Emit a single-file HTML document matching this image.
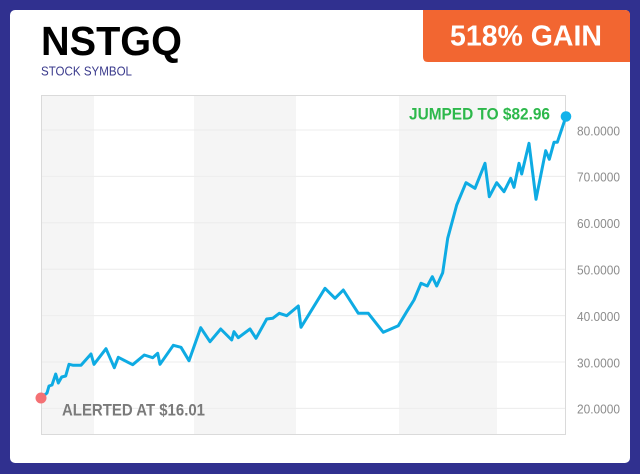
<!DOCTYPE html>
<html><head><meta charset="utf-8"><style>
html,body{margin:0;padding:0;background:#30308f;}
svg{display:block;}
text{font-family:"Liberation Sans",Arial,sans-serif;}
</style></head><body>
<svg width="640" height="474" viewBox="0 0 640 474" xmlns="http://www.w3.org/2000/svg">
<rect x="0" y="0" width="640" height="474" fill="#30308f"/>
<rect x="10" y="10" width="620" height="453" rx="5" fill="#ffffff"/>
<path d="M423,10 H625 Q630,10 630,15 V62 H428 Q423,62 423,57 Z" fill="#f26631"/>
<text x="450" y="45.5" font-size="28.5" font-weight="bold" fill="#ffffff" textLength="152" lengthAdjust="spacingAndGlyphs">518% GAIN</text>
<text x="41" y="55" font-size="41" font-weight="bold" fill="#000" textLength="141" lengthAdjust="spacingAndGlyphs">NSTGQ</text>
<text x="41" y="75.3" font-size="12.5" fill="#3a3a8c" textLength="91" lengthAdjust="spacingAndGlyphs">STOCK SYMBOL</text>
<!-- bands -->
<rect x="41" y="95" width="53" height="339.5" fill="#f5f5f5"/>
<rect x="194" y="95" width="102" height="339.5" fill="#f5f5f5"/>
<rect x="399" y="95" width="98" height="339.5" fill="#f5f5f5"/>
<!-- gridlines -->
<g stroke="#ececec" stroke-width="1">
<line x1="41" y1="130" x2="565.5" y2="130"/>
<line x1="41" y1="176.4" x2="565.5" y2="176.4"/>
<line x1="41" y1="222.8" x2="565.5" y2="222.8"/>
<line x1="41" y1="269.2" x2="565.5" y2="269.2"/>
<line x1="41" y1="315.6" x2="565.5" y2="315.6"/>
<line x1="41" y1="362" x2="565.5" y2="362"/>
<line x1="41" y1="408.4" x2="565.5" y2="408.4"/>
</g>
<rect x="41.5" y="95.5" width="524" height="339" fill="none" stroke="#dadada" stroke-width="1"/>
<g font-size="12.5" fill="#8c8c8c">
<text x="577" y="135.3" textLength="43" lengthAdjust="spacingAndGlyphs">80.0000</text>
<text x="577" y="181.7" textLength="43" lengthAdjust="spacingAndGlyphs">70.0000</text>
<text x="577" y="228.1" textLength="43" lengthAdjust="spacingAndGlyphs">60.0000</text>
<text x="577" y="274.5" textLength="43" lengthAdjust="spacingAndGlyphs">50.0000</text>
<text x="577" y="320.9" textLength="43" lengthAdjust="spacingAndGlyphs">40.0000</text>
<text x="577" y="367.3" textLength="43" lengthAdjust="spacingAndGlyphs">30.0000</text>
<text x="577" y="413.7" textLength="43" lengthAdjust="spacingAndGlyphs">20.0000</text>
</g>
<polyline fill="none" stroke="#0eabe3" stroke-width="3" stroke-linejoin="round" points="41,398 47,393 49,386 52,385 55.7,374 58.3,383 61.7,377 65.7,376 69,364.3 73.3,365.3 81,365.3 91,354 94,364.3 106,348.7 114.3,367.7 118.3,357.3 132.7,364.7 144.3,355 152.7,357.7 157.7,353.3 160,364.3 173.3,345.3 181,347.3 189,360.7 200.7,327.7 210,341.7 220.7,329 231.7,340 234,331.7 238.3,337.7 250,329 256,338.3 266.7,319 272.7,318.3 279.3,313.3 286.7,315.7 298.3,306 301,327.3 325,288.3 335,298.3 343.3,290 358.3,313.3 368.3,313.3 383.3,332.3 398.3,325.7 406.7,311.7 414,300 421,283.3 427.3,286 432.3,276.7 436.7,286 442.7,272.7 447.7,238.3 456.7,205 466,182.7 475,188.3 485,163.3 489.3,196.7 496.7,182.7 504,191.7 510.7,178.3 514,187.3 519,163.3 521.7,174 529,143.3 536,199.3 545.7,150.7 549.3,159.3 554,142.3 557.3,142.3 566,116.5"/>
<circle cx="41" cy="398" r="5.5" fill="#f47174"/>
<circle cx="566" cy="116.5" r="5.3" fill="#12b2ea"/>
<text x="409" y="119.3" font-size="16.5" font-weight="bold" fill="#2db84b" textLength="141" lengthAdjust="spacingAndGlyphs">JUMPED TO $82.96</text>
<text x="62" y="415.7" font-size="17" font-weight="bold" fill="#7a7a7a" textLength="143" lengthAdjust="spacingAndGlyphs">ALERTED AT $16.01</text>
</svg>
</body></html>
